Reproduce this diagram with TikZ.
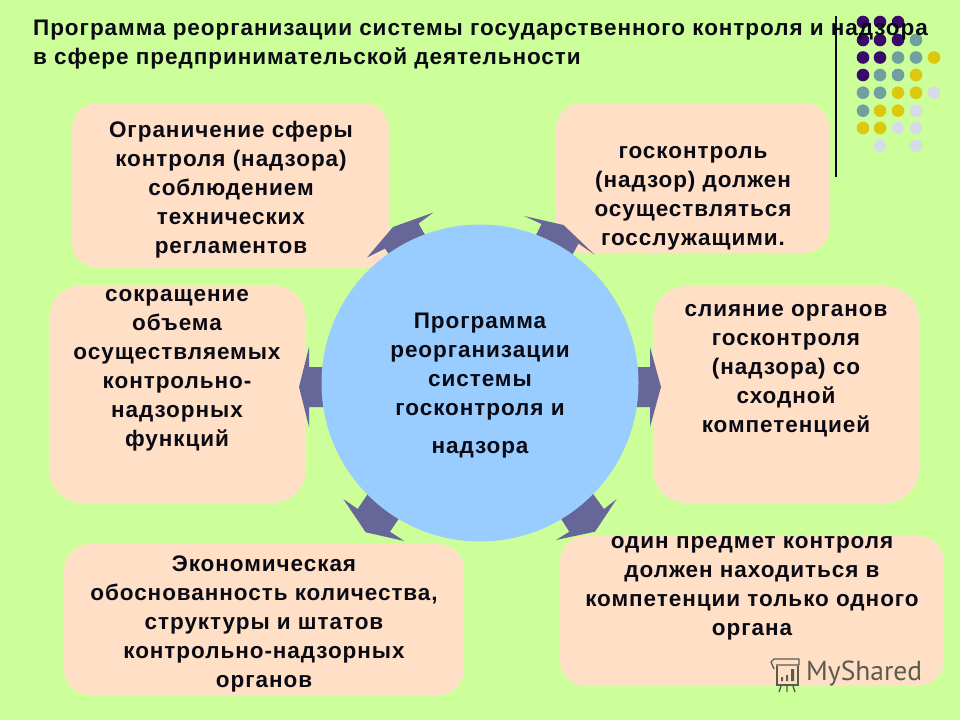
\documentclass[tikz,border=0pt]{standalone}
\usepackage{fontspec}
\setmainfont{Liberation Sans}[LetterSpace=4.2]
\newfontfamily\markfont{PT Sans}
\definecolor{bgcol}{HTML}{CCFF99}
\definecolor{boxcol}{HTML}{FFDFC6}
\definecolor{circcol}{HTML}{99CCFF}
\definecolor{arrcol}{HTML}{666699}
\definecolor{inkcol}{HTML}{0A0A14}
\definecolor{dotp}{HTML}{3A0A6A}
\definecolor{dott}{HTML}{6F9F9F}
\definecolor{doty}{HTML}{DCC80C}
\definecolor{dotl}{HTML}{D6DCE6}
\definecolor{markcol}{HTML}{5C5C4E}
\tikzset{
  x=1pt,y=-1pt,
  box/.style={fill=boxcol,draw=none,rounded corners=#1,inner sep=0pt},
  box/.default=26pt,
  txt/.style={align=center,font=\fontsize{22.5pt}{28.9pt}\selectfont\bfseries,text=inkcol,inner sep=0pt},
  burst/.style={fill=arrcol,draw=none},
  dotmark/.style={fill=#1,draw=none}
}
\begin{document}
\begin{tikzpicture}
\useasboundingbox (0,0) rectangle (960,720);
\fill[bgcol] (0,0) rectangle (960,720);
% dots and rule
\draw[inkcol,line width=1.2pt] (836,16) -- (836,177);
\foreach \c/\x/\y in {dotp/863/22,dotp/880/22,dotp/898/22,
 dotp/863/40,dotp/880/40,dotp/898/40,dott/916/40,
 dotp/863/57.5,dotp/880/57.5,dott/898/57.5,dott/916/57.5,doty/934/57.5,
 dotp/863/75,dott/880/75,dott/898/75,doty/916/75,
 dott/863/92.7,dott/880/92.7,doty/898/92.7,doty/916/92.7,dotl/934/92.7,
 dott/863/110.7,doty/880/110.7,doty/898/110.7,dotl/916/110.7,
 doty/863/128,doty/880/128,dotl/898/128,dotl/916/128,
 dotl/880/145.7,dotl/916/145.7}
  \fill[dotmark=\c] (\x,\y) circle (6.3);
% boxes
\node[box=26pt,minimum width=317pt,minimum height=165pt] (b1) at (230.5,185.5) {};
\node[box=26pt,minimum width=274pt,minimum height=150pt] (b2) at (693,178) {};
\node[box=34pt,minimum width=257pt,minimum height=218pt] (b3) at (177.5,394) {};
\node[box=34pt,minimum width=266pt,minimum height=217pt] (b4) at (786,394.5) {};
\node[box=26pt,minimum width=400pt,minimum height=151pt] (b5) at (264,619.5) {};
\node[box=26pt,minimum width=384pt,minimum height=150pt] (b6) at (752,611) {};
% arrows
\fill[burst] (630,367) -- (650,367) -- (650,347) -- (661,387) -- (650,427) -- (650,407) -- (630,407) -- cycle;
\fill[burst] (330,367) -- (309,367) -- (309,347) -- (299,387) -- (309,427) -- (309,407) -- (330,407) -- cycle;
\fill[burst] (394.5,262.6) -- (385,248.5) -- (367,257.5) -- (393,227) -- (433.5,212.5) -- (418.5,223.5) -- (428,240) -- cycle;
\fill[burst] (524,216) -- (563.5,225) -- (595,255) -- (578.5,243.5) -- (569,261) -- (532.7,242) -- (541.5,224) -- cycle;
\fill[burst] (343.3,499) -- (357.7,509) -- (371,489) -- (404,511) -- (390,531.7) -- (404.3,541) -- (365.7,532.3) -- cycle;
\fill[burst] (616.7,499) -- (604,509) -- (589.5,489) -- (556.5,511.7) -- (569.3,531.7) -- (556,540) -- (595,531.7) -- cycle;
% centre
\node[circle,fill=circcol,draw=none,minimum size=317pt,inner sep=0pt] (hub) at (480,383) {};
% texts
\node[txt] (t0) at (480,385.5) {Программа\\реорганизации\\системы\\госконтроля и\\[9.5pt]надзора};
\node[txt] (t1) at (231,189.5) {Ограничение сферы\\контроля (надзора)\\соблюдением\\технических\\регламентов};
\node[txt] (t2) at (693,198.5) {госконтроль\\(надзор) должен\\осуществляться\\госслужащими.};
\node[txt] (t3) at (177,370.5) {сокращение\\объема\\осуществляемых\\контрольно-\\надзорных\\функций};
\node[txt] (t4) at (786,370.5) {слияние органов\\госконтроля\\(надзора) со\\сходной\\компетенцией};
\node[txt] (t5) at (264,624) {Экономическая\\обоснованность количества,\\структуры и штатов\\контрольно-надзорных\\органов};
\node[txt] (t6) at (752,588) {один предмет контроля\\должен находиться в\\компетенции только одного\\органа};
% title
\node[anchor=west,align=left,inner sep=0pt,text=inkcol,font=\fontsize{22.5pt}{29pt}\selectfont\bfseries] (title) at (33,45) {Программа реорганизации системы государственного контроля и надзора\\в сфере предпринимательской деятельности};
% watermark
\node[anchor=west,inner sep=0pt,text=markcol,font=\markfont\fontsize{27.5pt}{30pt}\selectfont] (mark) at (806,674) {MyShared};
\draw[markcol,line width=1.3pt,line join=round] (774,669) -- (771,662) -- (774,659) -- (799,659) -- (799,665) -- (776,665);
\draw[markcol,line width=1.3pt] (777,666) -- (777,685) -- (798,685) -- (798,666);
\fill[markcol] (781,677) rectangle (783,681) (786,675) rectangle (788,681) (791,669) rectangle (794,681);
\draw[markcol,line width=1.3pt] (781,686) -- (779,692) (787,686) -- (787,692) (793,686) -- (795,692);
\end{tikzpicture}
\end{document}
